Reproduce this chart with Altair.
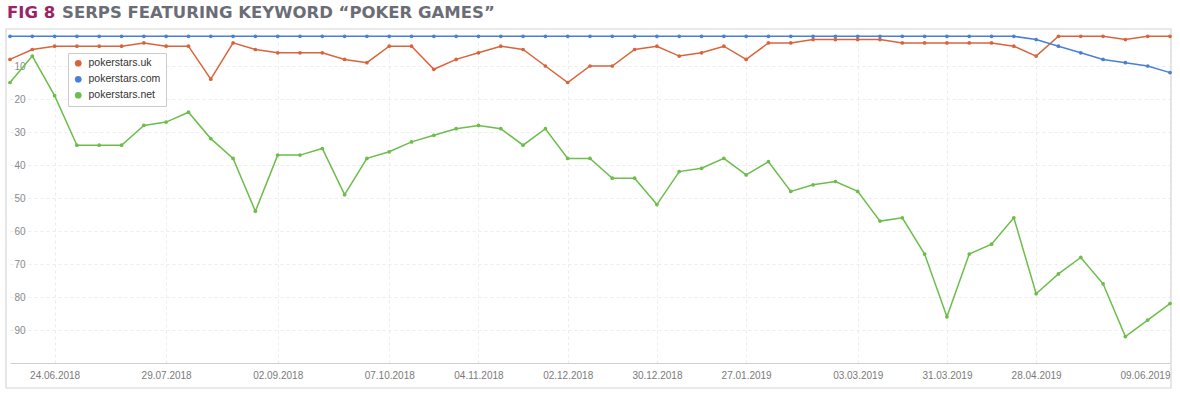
import altair as alt
import pandas as pd

# weekly observation dates (Sundays) 10.06.2018 .. 09.06.2019
dates = pd.date_range("2018-06-10", "2019-06-09", freq="7D")

uk = [8, 5, 4, 4, 4, 4, 3, 4, 4, 14, 3, 5, 6, 6, 6, 8, 9, 4, 4, 11,
      8, 6, 4, 5, 10, 15, 10, 10, 5, 4, 7, 6, 4, 8, 3, 3, 2, 2, 2, 2,
      3, 3, 3, 3, 3, 4, 7, 1, 1, 1, 2, 1, 1]
com = [1] * 46 + [2, 4, 6, 8, 9, 10, 12]
net = [15, 7, 19, 34, 34, 34, 28, 27, 24, 32, 38, 54, 37, 37, 35, 49, 38, 36, 33, 31,
       29, 28, 29, 34, 29, 38, 38, 44, 44, 52, 42, 41, 38, 43, 39, 48, 46, 45, 48, 57,
       56, 67, 86, 67, 64, 56, 79, 73, 68, 76, 92, 87, 82]

series_names = ["pokerstars.uk", "pokerstars.com", "pokerstars.net"]
series_colors = ["#d9643c", "#4a7fd6", "#6cbd4c"]

tick_dates = ["2018-06-24", "2018-07-29", "2018-09-02", "2018-10-07", "2018-11-04",
              "2018-12-02", "2018-12-30", "2019-01-27", "2019-03-03", "2019-03-31",
              "2019-04-28", "2019-06-09"]
y_ticks = [10, 20, 30, 40, 50, 60, 70, 80, 90]

rows = []
for name, vals in zip(series_names, [uk, com, net]):
    for d, v in zip(dates, vals):
        rows.append({"date": d.strftime("%Y-%m-%d"), "site": name, "rank": v})
df = pd.DataFrame(rows)

def ms(s):
    return int(pd.Timestamp(s, tz="UTC").value // 10**6)

W, H = 1160, 330

x_enc = alt.X("date:T",
              scale=alt.Scale(type="utc", domain=[ms(dates[0].strftime("%Y-%m-%d")), ms(dates[-1].strftime("%Y-%m-%d"))], nice=False),
              axis=alt.Axis(values=[ms(t) for t in tick_dates], format="%d.%m.%Y", title=None,
                            ticks=False, labelFlush=True, labelPadding=7,
                            labelFont="Liberation Sans", labelFontSize=10, labelColor="#7a7a7a",
                            domainColor="#cfcfcf", domainWidth=1,
                            grid=True, gridColor="#ececec", gridDash=[3, 3]))
y_enc = alt.Y("rank:Q",
              scale=alt.Scale(domain=[0, 100], reverse=True, nice=False, zero=False),
              axis=alt.Axis(values=y_ticks, title=None, ticks=False, domain=False,
                            labelAlign="left", labelPadding=-4,
                            labelFont="Liberation Sans", labelFontSize=10, labelColor="#8a8a8a",
                            grid=True, gridColor="#ececec", gridDash=[3, 3]))
color_scale = alt.Scale(domain=series_names, range=series_colors)
legend = alt.Legend(title=None, orient="none", legendX=58, legendY=20,
                    symbolType="circle", symbolSize=45, symbolStrokeWidth=0,
                    labelFont="Liberation Sans", labelFontSize=10.5,
                    labelColor="#333333", fillColor="white",
                    strokeColor="#cccccc", padding=5, rowPadding=5,
                    labelOffset=5)

frame = alt.Chart(pd.DataFrame({"a": [0]})).mark_rect(
    fillOpacity=0, stroke="#d6d6d6", strokeWidth=1.2
).encode(x=alt.value(-4), x2=alt.value(W + 1), y=alt.value(-4), y2=alt.value(H + 25))

lines = alt.Chart(df).mark_line(strokeWidth=1.5).encode(
    x=x_enc, y=y_enc,
    color=alt.Color("site:N", scale=color_scale, legend=legend),
    order=alt.Order("date:T"),
)
points = alt.Chart(df).mark_point(filled=True, size=14, opacity=1).encode(
    x=x_enc, y=y_enc,
    color=alt.Color("site:N", scale=color_scale, legend=legend),
)

title1 = alt.Chart(pd.DataFrame({"t": ["FIG 8"]})).mark_text(
    align="left", baseline="alphabetic", font="DejaVu Sans", fontWeight="bold",
    fontSize=16.5, color="#9b2466"
).encode(text="t:N", x=alt.value(-3), y=alt.value(-15))
title2 = alt.Chart(pd.DataFrame({"t": ["SERPS FEATURING KEYWORD \u201cPOKER GAMES\u201d"]})).mark_text(
    align="left", baseline="alphabetic", font="DejaVu Sans", fontWeight="bold",
    fontSize=16.5, color="#6b6d76"
).encode(text="t:N", x=alt.value(52), y=alt.value(-15))

chart = alt.layer(frame, lines, points, title1, title2).properties(
    width=W, height=H,
    padding={"left": 10, "top": 33, "right": 10, "bottom": 35},
    autosize=alt.AutoSizeParams(type="none"),
    background="white",
).configure_view(stroke=None)

chart.save("out.html", embed_options={"renderer": "svg", "actions": False})
